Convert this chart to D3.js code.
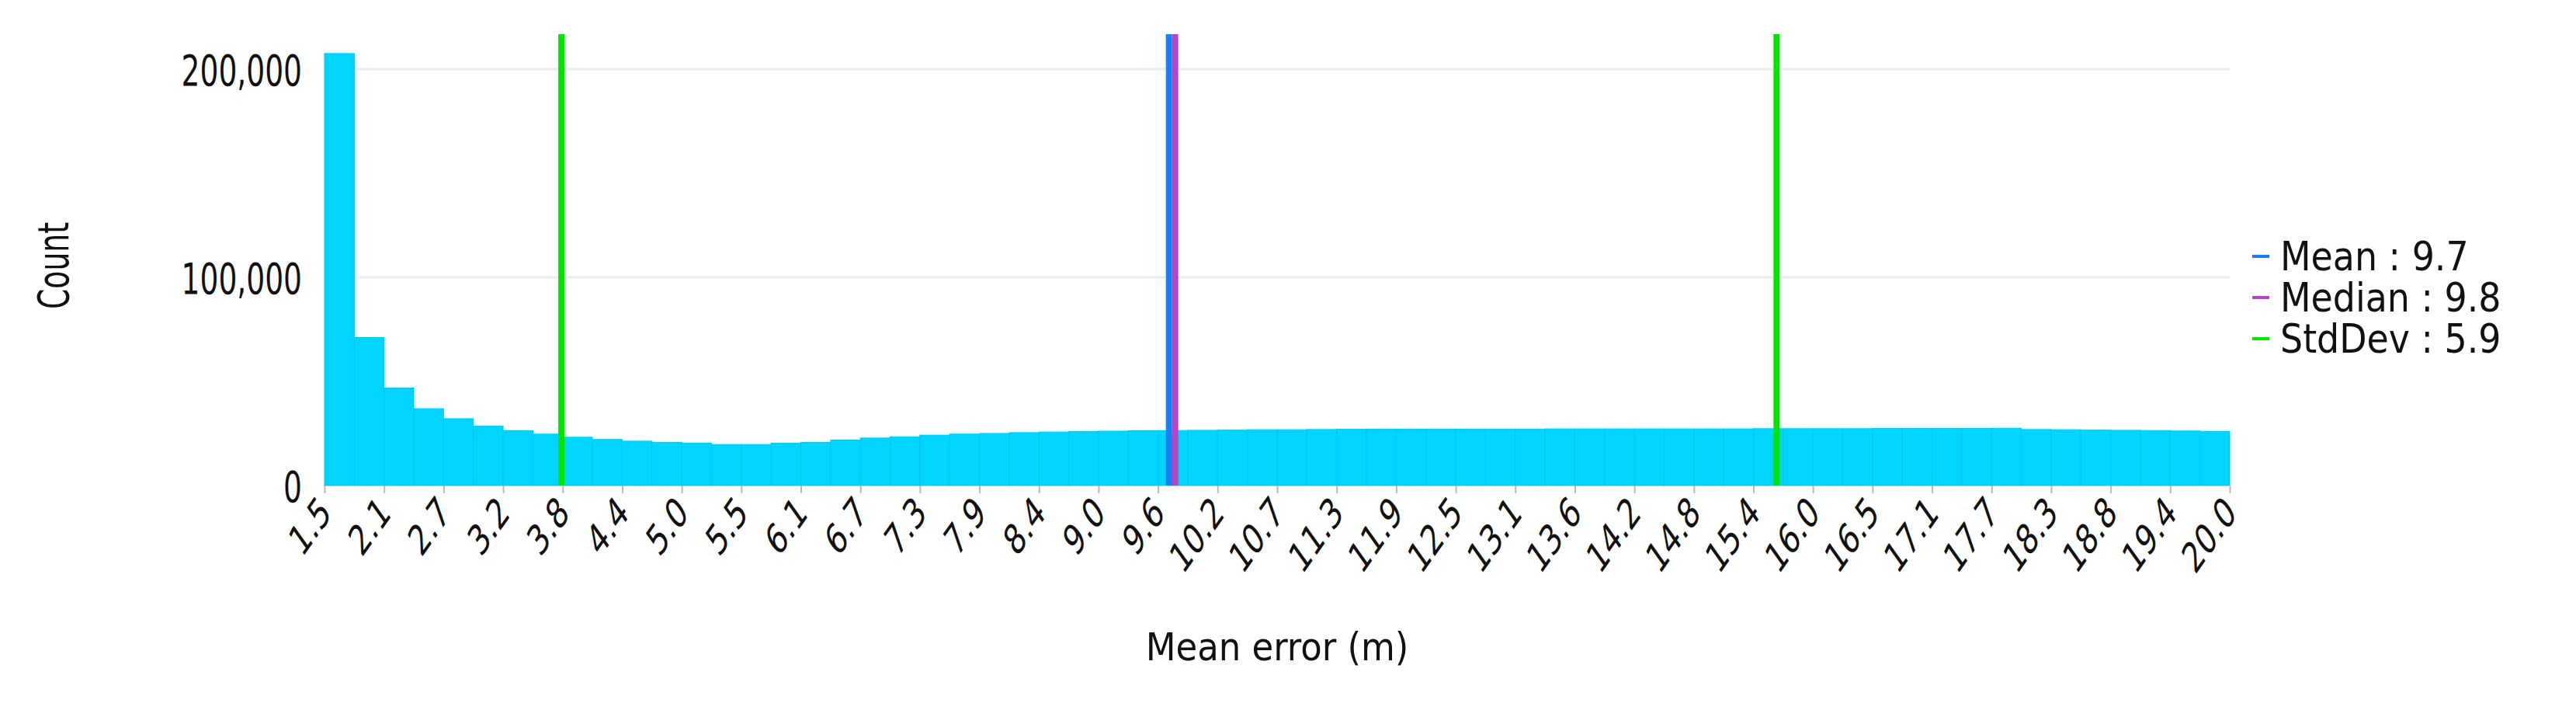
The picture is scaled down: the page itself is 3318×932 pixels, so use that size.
<!DOCTYPE html>
<html>
<head>
<meta charset="utf-8">
<script src="https://cdn.jsdelivr.net/npm/d3@7/dist/d3.min.js"></script>
<style>
  html, body { margin: 0; padding: 0; background: #fff; }
  svg text {
    font-family: "DejaVu Sans Condensed", "DejaVu Sans", sans-serif;
    font-stretch: condensed;
    fill: #111;
  }
</style>
</head>
<body>
<svg id="chart" width="3318" height="932"></svg>
<script>
// histogram of mean error, 64 bins between 1.5 and 20.0 m
const xExtent = [1.5, 20.0];
const binCounts = [
  207500, 71100, 46800, 36900, 32100, 28500, 26300, 24700,
  23200, 22100, 21300, 20700, 20400, 19700, 19700, 20300,
  20700, 21800, 22800, 23400, 24200, 24700, 25000, 25400,
  25700, 25900, 26100, 26300, 26400, 26500, 26600, 26800,
  26800, 26900, 27000, 27100, 27100, 27100, 27100, 27100,
  27100, 27200, 27200, 27200, 27200, 27200, 27200, 27200,
  27300, 27300, 27300, 27300, 27400, 27400, 27400, 27400,
  27500, 26900, 26800, 26600, 26500, 26400, 26200, 26000
];
const tickLabels = [
  "1.5", "2.1", "2.7", "3.2", "3.8", "4.4", "5.0", "5.5", "6.1", "6.7", "7.3",
  "7.9", "8.4", "9.0", "9.6", "10.2", "10.7", "11.3", "11.9", "12.5", "13.1",
  "13.6", "14.2", "14.8", "15.4", "16.0", "16.5", "17.1", "17.7", "18.3",
  "18.8", "19.4", "20.0"
];
const yTicks = [0, 100000, 200000];
const statNames = ["Mean", "Median", "StdDev"];
const statValues = [9.7, 9.76, 5.9];
const statColors = ["#1a7ff0", "#b845c6", "#00e400"];

const svg = d3.select("#chart");
const margin = { left: 418, right: 446, top: 44, bottom: 307 };
const width = 3318, height = 932;

const x = d3.scaleLinear()
  .domain(xExtent)
  .range([margin.left, width - margin.right]);
const y = d3.scaleLinear()
  .domain([0, 216800])
  .range([height - margin.bottom, margin.top]);

const binW = (xExtent[1] - xExtent[0]) / binCounts.length;
const bins = binCounts.map((c, i) => ({
  x0: xExtent[0] + i * binW,
  x1: xExtent[0] + (i + 1) * binW,
  count: c
}));

// gridlines
svg.append("g")
  .selectAll("line")
  .data(yTicks.filter(d => d > 0))
  .enter()
  .append("line")
  .attr("x1", x(xExtent[0]))
  .attr("x2", x(xExtent[1]))
  .attr("y1", d => y(d))
  .attr("y2", d => y(d))
  .attr("stroke", "#ececec")
  .attr("stroke-width", 3);

// bars
svg.append("g")
  .selectAll("rect")
  .data(bins)
  .enter()
  .append("rect")
  .attr("x", d => x(d.x0))
  .attr("width", d => x(d.x1) - x(d.x0))
  .attr("y", d => y(d.count))
  .attr("height", d => y(0) - y(d.count))
  .attr("fill", "#00d4ff")
  .attr("stroke", "#00c4ee")
  .attr("stroke-width", 1);

// x axis: one tick every two bins
const tickValues = tickLabels.map((t, i) => xExtent[0] + i * 2 * binW);
const xAxis = d3.axisBottom(x)
  .tickValues(tickValues)
  .tickSize(10)
  .tickFormat((d, i) => tickLabels[i]);

const gx = svg.append("g")
  .attr("transform", `translate(0,${y(0)})`)
  .call(xAxis);
gx.select(".domain").remove();
gx.selectAll(".tick line").attr("stroke", "#b8b8b8").attr("stroke-width", 2);
gx.selectAll(".tick text")
  .attr("x", 0)
  .attr("y", 0)
  .attr("dy", 0)
  .attr("text-anchor", "end")
  .attr("transform", "translate(10,38) scale(0.78,1.1) rotate(-45)")
  .style("font-size", "50px");

// y axis, narrow tall glyphs as in the source
const yAxis = d3.axisLeft(y)
  .tickValues(yTicks)
  .tickSize(0)
  .tickFormat(d3.format(","));
const gy = svg.append("g")
  .attr("transform", `translate(${margin.left},0)`)
  .call(yAxis);
gy.select(".domain").remove();
gy.selectAll(".tick text")
  .attr("x", 0)
  .attr("dy", "0.38em")
  .attr("transform", "translate(-29,0) scale(0.76,1)")
  .style("font-size", "55px");

// statistic lines
const mean = statValues[0], median = statValues[1], sd = statValues[2];
const statLines = [
  { v: mean - sd, c: statColors[2] },
  { v: mean + sd, c: statColors[2] },
  { v: mean, c: statColors[0] },
  { v: median, c: statColors[1] }
];
svg.append("g")
  .selectAll("line")
  .data(statLines)
  .enter()
  .append("line")
  .attr("x1", d => x(d.v))
  .attr("x2", d => x(d.v))
  .attr("y1", y.range()[1])
  .attr("y2", y(0))
  .attr("stroke", d => d.c)
  .attr("stroke-width", 8);

// axis titles
svg.append("text")
  .attr("transform", "translate(88,342) rotate(-90) scale(0.75,1)")
  .attr("text-anchor", "middle")
  .style("font-size", "56px")
  .text("Count");

svg.append("text")
  .attr("x", (x.range()[0] + x.range()[1]) / 2)
  .attr("y", 850)
  .attr("text-anchor", "middle")
  .style("font-size", "50px")
  .text("Mean error (m)");

// legend
const legend = svg.append("g").attr("transform", "translate(2901,330)");
const item = legend.selectAll("g")
  .data(statNames)
  .enter()
  .append("g")
  .attr("transform", (d, i) => `translate(0,${i * 53})`);
item.append("line")
  .attr("x1", 0)
  .attr("x2", 22)
  .attr("stroke", (d, i) => statColors[i])
  .attr("stroke-width", 4);
item.append("text")
  .attr("x", 36)
  .attr("dy", "0.36em")
  .style("font-size", "51px")
  .text((d, i) => `${d} : ${statValues[i].toFixed(1)}`);
</script>
</body>
</html>
